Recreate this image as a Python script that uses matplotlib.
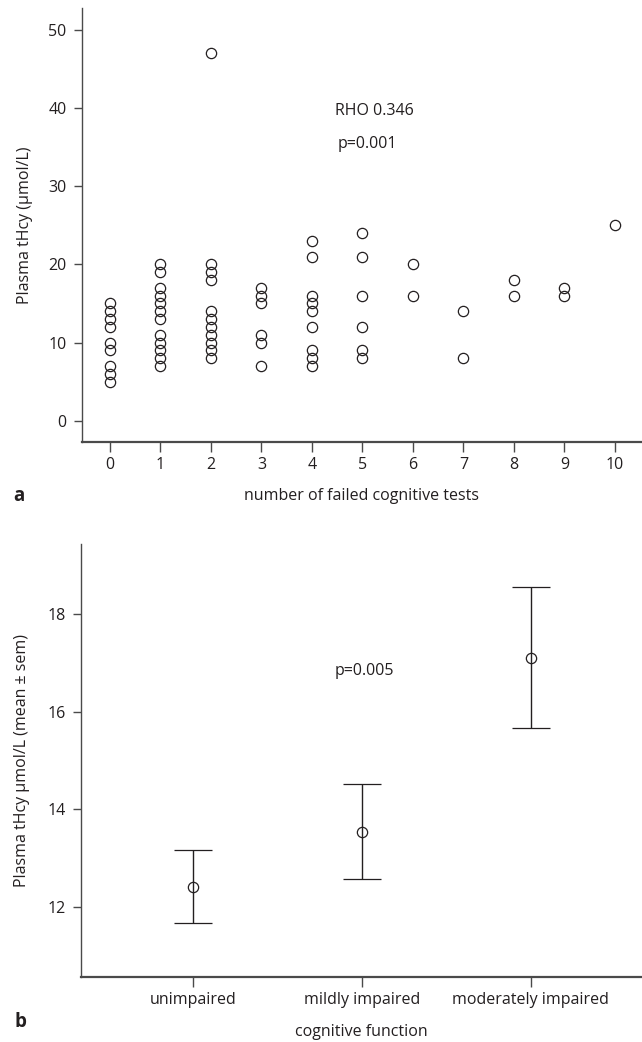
import matplotlib
matplotlib.use("Agg")
import matplotlib.pyplot as plt
import numpy as np

plt.rcParams['font.family'] = ['Open Sans', 'DejaVu Sans']

# ---- Panel a data: number of failed tests vs plasma tHcy ----
failed_tests = [0]*9 + [1]*12 + [2]*11 + [3]*6 + [4]*9 + [5]*6 + [6]*2 + [7]*2 + [8]*2 + [9]*2 + [10]*1
thcy_values = [
    15, 14, 13, 12, 10, 9, 7, 6, 5,                 # 0
    20, 19, 17, 16, 15, 14, 13, 11, 10, 9, 8, 7,    # 1
    47, 20, 19, 18, 14, 13, 12, 11, 10, 9, 8,       # 2
    17, 16, 15, 11, 10, 7,                          # 3
    23, 21, 16, 15, 14, 12, 9, 8, 7,                # 4
    24, 21, 16, 12, 9, 8,                           # 5
    20, 16,                                         # 6
    14, 8,                                          # 7
    18, 16,                                         # 8
    17, 16,                                         # 9
    25,                                             # 10
]
x_ticks_a = list(range(0, 11))
y_ticks_a = [0, 10, 20, 30, 40, 50]

# ---- Panel b data: mean +- sem by cognitive function ----
groups = ["unimpaired", "mildly impaired", "moderately impaired"]
means = [12.41, 13.54, 17.09]
sem_upper = [13.16, 14.51, 18.54]
sem_lower = [11.66, 12.58, 15.67]
y_ticks_b = [12, 14, 16, 18]

W, H = 642, 1042
fig = plt.figure(figsize=(W/100, H/100), dpi=100)

text_col = '#231f20'
spine_col = '#4a4a4a'
fs = 11.5

def px_axes(left, top, right, bottom):
    return fig.add_axes([left/W, 1-bottom/H, (right-left)/W, (bottom-top)/H])

# ---------- panel a ----------
ax1 = px_axes(81.7, 8, 642, 442)
ax1.plot(failed_tests, thcy_values, linestyle='none', marker='o', ms=7.4,
         mfc='none', mec=text_col, mew=0.9)
ax1.set_xlim(-0.56, 10.535)
ax1.set_ylim(-2.73, 52.8)
ax1.set_xticks(x_ticks_a)
ax1.set_yticks(y_ticks_a)
ax1.text(4.455, 39.65, "RHO 0.346", fontsize=fs, color=text_col, va='center', ha='left')
ax1.text(4.51, 35.4, "p=0.001", fontsize=fs, color=text_col, va='center', ha='left')
ax1.set_ylabel("Plasma tHcy (µmol/L)", fontsize=fs, color=text_col)
ax1.yaxis.set_label_coords(-(81.7-25)/(642-81.7), 0.5)
ax1.yaxis.label.set_va('center')
ax1.set_xlabel("number of failed cognitive tests", fontsize=fs, color=text_col)
ax1.xaxis.set_label_coords(0.5, (442-496)/434)
ax1.xaxis.label.set_va('center')

# ---------- panel b ----------
ax2 = px_axes(81, 544, 642, 976.7)
x_pos = np.arange(len(groups))
means_arr = np.array(means)
yerr = [means_arr - np.array(sem_lower), np.array(sem_upper) - means_arr]
ax2.errorbar(x_pos, means, yerr=yerr, fmt='o', ms=7.4, mfc='none', mec=text_col,
             mew=0.9, ecolor=text_col, elinewidth=1.0, capsize=14, capthick=1.0)
ax2.set_xlim(-0.665, 2.658)
ax2.set_ylim(10.57, 19.43)
ax2.set_xticks(x_pos)
ax2.set_xticklabels(groups)
ax2.set_yticks(y_ticks_b)
ax2.text(0.84, 16.83, "p=0.005", fontsize=fs, color=text_col, va='center', ha='left')
ax2.set_ylabel("Plasma tHcy µmol/L (mean ± sem)", fontsize=fs, color=text_col)
ax2.yaxis.set_label_coords(-(81-22)/(642-81), 0.5)
ax2.yaxis.label.set_va('center')
ax2.set_xlabel("cognitive function", fontsize=fs, color=text_col)
ax2.xaxis.set_label_coords(0.5, (976.7-1031.7)/432.7)
ax2.xaxis.label.set_va('center')

for ax in (ax1, ax2):
    ax.spines['top'].set_visible(False)
    ax.spines['right'].set_visible(False)
    ax.spines['left'].set_color(spine_col)
    ax.spines['bottom'].set_color(spine_col)
    ax.spines['left'].set_linewidth(1.0)
    ax.spines['bottom'].set_linewidth(1.6)
    ax.tick_params(axis='both', direction='out', colors=spine_col, labelcolor=text_col,
                   labelsize=fs, width=1.0)
    ax.tick_params(axis='y', length=6, pad=5)
    ax.tick_params(axis='x', length=7, pad=4)

fig.text(19/W, 1-496/H, "a", fontsize=13.5, fontweight='bold', color=text_col, ha='center', va='center')
fig.text(20/W, 1-1021.7/H, "b", fontsize=13.5, fontweight='bold', color=text_col, ha='center', va='center')

fig.savefig("out.png", dpi=100)
